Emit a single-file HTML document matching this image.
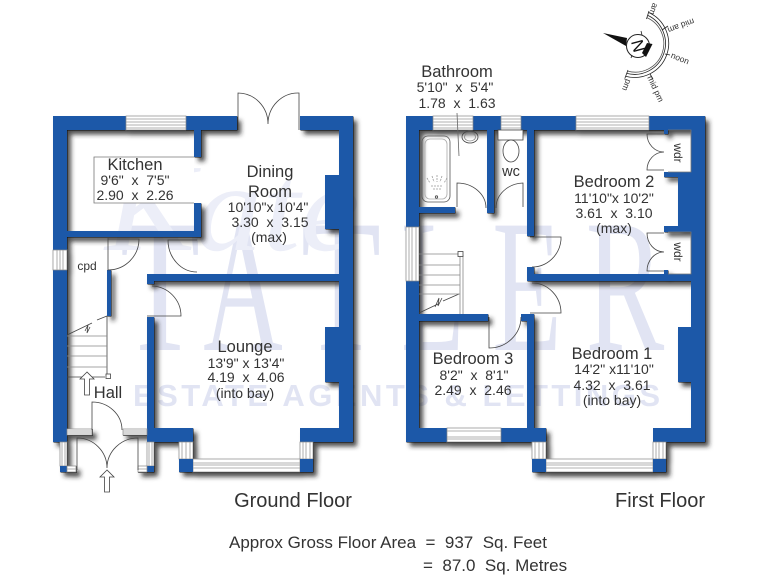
<!DOCTYPE html>
<html><head><meta charset="utf-8"><style>
html,body{margin:0;padding:0;background:#fff;width:768px;height:576px;overflow:hidden}
svg{display:block}
text{font-family:"Liberation Sans",sans-serif;fill:#333}
.m{text-anchor:middle}
.t{font-size:16.5px}
.d{font-size:14px}
.w rect.b{fill:#1b58a8}
.win{fill:#fff;stroke:#888;stroke-width:.7}
.l{stroke:#999;stroke-width:.8;fill:none}
.door{fill:none;stroke:#444;stroke-width:.8}
.wm text{font-family:"Liberation Serif",serif;fill:#e1e4f3;text-anchor:middle;font-size:190px}
</style></head><body>
<svg width="768" height="576" viewBox="0 0 768 576" xmlns="http://www.w3.org/2000/svg">
<defs><filter id="s" filterUnits="userSpaceOnUse" x="0" y="0" width="768" height="576">
<feGaussianBlur in="SourceAlpha" stdDeviation="2.500" result="b"/>
<feOffset in="b" dx="4" dy="4.500" result="o"/>
<feFlood flood-color="#222" flood-opacity=".8"/><feComposite in2="o" operator="in" result="big"/>
<feOffset in="SourceAlpha" dx=".7" dy=".7" result="e"/>
<feFlood flood-color="#111"/><feComposite in2="e" operator="in" result="edge"/>
<feMerge><feMergeNode in="big"/><feMergeNode in="edge"/><feMergeNode in="SourceGraphic"/></feMerge>
</filter></defs>
<rect width="768" height="576" fill="#fff"/>

<!-- watermark -->
<g class="wm">
<text transform="translate(160,350) scale(.69,1)">T</text>
<text transform="translate(243,350) scale(.58,1)">A</text>
<text transform="translate(341,350) scale(.69,1)">T</text>
<text transform="translate(433,350) scale(.55,1)">L</text>
<text transform="translate(527,350) scale(.6,1)">E</text>
<text transform="translate(625,350) scale(.62,1)">R</text>
<text x="105" y="250" textLength="255" lengthAdjust="spacingAndGlyphs" style="font-style:italic;font-size:125px;text-anchor:start;fill:#eceef8">Kate</text>
<text x="133" y="406" textLength="527" lengthAdjust="spacing" style="font-family:'Liberation Sans',sans-serif;font-weight:bold;font-size:31px;text-anchor:start">ESTATE AGENTS &amp; LETTINGS</text>
</g>

<!-- ground floor walls -->
<g class="w" filter="url(#s)">
<rect class="b" x="53" y="116" width="184" height="14"/>
<rect class="b" x="300" y="116" width="53" height="14"/>
<rect class="b" x="53" y="116" width="14" height="326"/>
<rect class="b" x="339" y="116" width="14" height="326"/>
<rect class="b" x="325" y="175" width="14" height="54"/>
<rect class="b" x="325" y="327" width="14" height="55"/>
<rect class="b" x="300" y="428" width="53" height="14"/>
<rect class="b" x="147" y="428" width="46" height="14"/>
<rect class="b" x="147" y="317" width="7" height="111"/>
<rect class="b" x="147" y="274" width="192" height="7"/>
<rect class="b" x="147" y="281" width="7" height="3"/>
<rect class="b" x="67" y="231" width="134" height="6"/>
<rect class="b" x="194" y="130" width="7" height="27"/>
<rect class="b" x="194" y="203" width="7" height="34"/>
<rect class="b" x="107" y="270" width="4" height="46"/>
<rect class="win" x="126" y="116" width="60" height="14"/>
<rect class="win" x="53" y="250" width="14" height="20"/>
<rect class="win" x="179" y="442" width="14" height="17"/>
<rect class="win" x="300" y="442" width="13" height="17"/>
<rect class="win" x="193" y="459" width="107" height="13"/>
<rect class="b" x="179" y="459" width="14" height="13"/>
<rect class="b" x="300" y="459" width="13" height="13"/>
<rect class="win" x="60" y="442" width="7" height="24"/>
<rect class="b" x="60" y="466" width="7" height="6"/>
<rect class="win" x="67" y="466" width="9" height="6"/>
<rect class="win" x="147" y="442" width="7" height="24"/>
<rect class="b" x="147" y="466" width="7" height="6"/>
<rect class="win" x="138" y="466" width="9" height="6"/>
<rect class="win" x="67" y="429" width="25" height="6"/>
<rect class="win" x="123" y="429" width="24" height="6"/>

<!-- first floor walls -->
<rect class="b" x="406" y="116" width="299" height="14"/>
<rect class="b" x="406" y="116" width="13" height="326"/>
<rect class="b" x="691" y="116" width="14" height="326"/>
<rect class="b" x="487" y="130" width="7" height="83"/>
<rect class="b" x="527" y="130" width="7" height="106"/>
<rect class="b" x="419" y="207" width="36" height="6"/>
<rect class="b" x="527" y="274" width="164" height="7"/>
<rect class="b" x="527" y="267" width="7" height="7"/>
<rect class="b" x="664" y="130" width="4" height="4"/>
<rect class="b" x="664" y="270" width="4" height="4"/>
<rect class="b" x="664" y="172" width="27" height="5"/>
<rect class="b" x="678" y="172" width="13" height="60"/>
<rect class="b" x="664" y="226" width="27" height="6"/>
<rect class="b" x="678" y="327" width="13" height="55"/>
<rect class="b" x="419" y="314" width="69" height="7"/>
<rect class="b" x="521" y="314" width="13" height="7"/>
<rect class="b" x="527" y="314" width="7" height="114"/>
<rect class="b" x="406" y="428" width="140" height="14"/>
<rect class="b" x="653" y="428" width="52" height="14"/>
<rect class="win" x="433" y="116" width="40" height="14"/>
<rect class="win" x="501" y="116" width="20" height="14"/>
<rect class="win" x="576" y="116" width="73" height="14"/>
<rect class="win" x="406" y="227" width="13" height="54"/>
<rect class="win" x="447" y="428" width="54" height="14"/>
<rect class="win" x="532" y="442" width="14" height="17"/>
<rect class="win" x="653" y="442" width="13" height="17"/>
<rect class="win" x="546" y="459" width="107" height="13"/>
<rect class="b" x="532" y="459" width="14" height="13"/>
<rect class="b" x="653" y="459" width="13" height="13"/>
</g>

<!-- window glazing lines -->
<g class="l">
<path d="M126 119H186M126 122H186M126 125H186M126 128H186"/>
<path d="M57 250V270M60 250V270M63 250V270"/>
<path d="M182 442V459M186 442V459M190 442V459M303 442V459M306 442V459M310 442V459"/>
<path d="M193 463H300M193 465H300M193 468H300"/>
<path d="M62 442V466M65 442V466M149 442V466M152 442V466M67 469H76M138 469H147M67 431H92M67 433H92M123 431H147M123 433H147"/>
<path d="M433 119H473M433 122H473M433 125H473M433 128H473M501 119H521M501 122H521M501 125H521M501 128H521"/>
<path d="M576 119H649M576 122H649M576 125H649M576 128H649"/>
<path d="M409 227V281M412 227V281M416 227V281"/>
<path d="M447 431H501M447 437H501M447 439H501"/>
<path d="M535 442V459M539 442V459M543 442V459M656 442V459M659 442V459M663 442V459"/>
<path d="M546 463H653M546 465H653M546 468H653"/>
</g>

<!-- kitchen label box -->
<path d="M194 157H94V203H194" fill="#fff" stroke="#777" stroke-width=".8"/>

<!-- ground doors -->
<g class="door">
<path d="M238 130V93A30 31 0 0 1 268 124A30 31 0 0 1 299 93V130"/>
<path d="M108 238V270A31 31 0 0 0 139 239H108"/>
<path d="M197 240H168A29 32 0 0 0 197 272"/>
<path d="M152 286A30 30 0 0 1 181 316H147"/>
<path d="M92 430V402A30 28 0 0 1 122 430"/>
<path d="M77 470V438A30 30 0 0 1 107 468A31 30 0 0 1 138 438V470"/>
<!-- stairs -->
<path d="M107 316V377M67 377H105M67 335L92 323M97 320L107 316M85 331L88 325L87 333L90 327"/>
<path d="M67 336H107M67 346H107M67 356H107M67 367H107" stroke="#888"/>
<rect x="106" y="374" width="4.500" height="4.500" fill="#fff"/>
<path d="M87 372L80 379H84.500V395H89.500V379H94Z" fill="#fff"/>
<path d="M107 470L100 477H104.500V492H109.500V477H114Z" fill="#fff"/>
</g>

<!-- first floor fixtures -->
<g class="door">
<path d="M457 207V183A29 25 0 0 1 486 208"/>
<path d="M457 113L459 156" stroke="#666"/>
<path d="M523 207V183A28 25 0 0 0 496 208"/>
<path d="M530 237H561V240A29 30 0 0 1 532 267"/>
<path d="M532 283A29 30 0 0 1 561 313H530"/>
<path d="M489 317V348A32 31 0 0 0 521 317"/>
<path d="M664 134H647A17 18 0 0 0 664 152A17 18 0 0 0 647 170H664"/>
<path d="M664 233H647A17 19 0 0 0 664 252A17 19 0 0 0 647 271H664"/>
<path d="M668 130H691V172H668M668 232H691V274H668" stroke="#777"/>
<rect x="422" y="136" width="28" height="66" rx="6" stroke="#555"/>
<rect x="425" y="139" width="22" height="60" rx="5" stroke="#aaa"/>
<ellipse cx="470" cy="137" rx="8" ry="6"/><ellipse cx="470" cy="137" rx="5.500" ry="4" stroke="#888"/>
<rect x="498" y="130" width="25" height="10" fill="#fff"/>
<ellipse cx="511" cy="151" rx="8" ry="11" fill="#fff"/>
<path d="M427 178L430 183M432 176L434 182M437 175V182M442 176L440 182M447 178L444 183M431 186H443M433 189H441" stroke="#999" stroke-dasharray="2 1"/>
<circle cx="436.500" cy="197" r="1.200"/>
<path d="M460 255V314M463 255V314" stroke="#888"/>
<path d="M419 313L438 304M443 301L459 294M435 307L439 298L438 306L442 298"/>
<path d="M419 254H458M419 265H460M419 275H460M419 285H460M419 294H460" stroke="#888"/>
<rect x="458" y="251.500" width="5" height="5" fill="#fff"/>
</g>

<!-- compass -->
<g fill="none" stroke="#222" stroke-width=".8">
<path d="M648.500 12.400A34 34 0 0 1 625.500 76.200"/>
<path d="M647.600 15.300A31 31 0 0 1 626.700 73.400"/>
<path d="M646.900 17.600A28.500 28.500 0 0 1 627.700 71.100" stroke="#555"/>
<path d="M649 11L646.500 19M625 78L628 70M668 26L662 30M670 55L665 54M650 74L653 79"/>
<circle cx="638" cy="46" r="11.500" fill="#fff" stroke-width="1"/>
<path d="M641 31L642 35M631 58L632 55"/>
</g>
<polygon points="603,33 627,38 626,46" fill="#111"/>
<polygon points="647,43 652.500,44 646,57 642,53" fill="#111"/>
<text x="638" y="52" class="m" transform="rotate(-105 638 46)" style="font-size:17px;fill:#111">N</text>
<g>
<text transform="translate(651,8) rotate(110)" class="m" style="font-size:8.500px">am</text>
<text transform="translate(680,23) rotate(160)" class="m" style="font-size:8.500px">mid am</text>
<text transform="translate(679,61) rotate(22)" class="m" style="font-size:8.500px">noon</text>
<text transform="translate(653,90) rotate(65)" class="m" style="font-size:8.500px">mid pm</text>
<text transform="translate(624,84) rotate(112)" class="m" style="font-size:8.500px">pm</text>
</g>

<!-- labels -->
<text x="135" y="170" class="m t">Kitchen</text>
<text x="135" y="185" class="m d" xml:space="preserve">9'6"  x  7'5"</text>
<text x="135" y="200" class="m d" xml:space="preserve">2.90  x  2.26</text>
<text x="270" y="177" class="m t">Dining</text>
<text x="270" y="197" class="m t">Room</text>
<text x="268" y="212" class="m d">10'10"x 10'4"</text>
<text x="270" y="227" class="m d" xml:space="preserve">3.30  x  3.15</text>
<text x="269" y="242" class="m d">(max)</text>
<text x="87" y="270" class="m" style="font-size:12px">cpd</text>
<text x="245" y="352" class="m t">Lounge</text>
<text x="246" y="368" class="m d" xml:space="preserve">13'9" x 13'4"</text>
<text x="246" y="382" class="m d" xml:space="preserve">4.19  x  4.06</text>
<text x="245" y="398" class="m d">(into bay)</text>
<text x="108" y="398" class="m t">Hall</text>
<text x="293" y="507" class="m" style="font-size:20px">Ground Floor</text>
<text x="660" y="507" class="m" style="font-size:20px">First Floor</text>
<text x="457" y="77" class="m t">Bathroom</text>
<text x="455" y="92" class="m d" xml:space="preserve">5'10"  x  5'4"</text>
<text x="457" y="108" class="m d" xml:space="preserve">1.78  x  1.63</text>
<text x="511" y="176" class="m" style="font-size:14.500px">wc</text>
<text x="614" y="187" class="m t">Bedroom 2</text>
<text x="614" y="203" class="m d">11'10"x 10'2"</text>
<text x="614" y="218" class="m d" xml:space="preserve">3.61  x  3.10</text>
<text x="614" y="233" class="m d">(max)</text>
<text transform="translate(674,153) rotate(90)" class="m" style="font-size:12px">wdr</text>
<text transform="translate(674,252) rotate(90)" class="m" style="font-size:12px">wdr</text>
<text x="473" y="364" class="m t">Bedroom 3</text>
<text x="474" y="380" class="m d" xml:space="preserve">8'2"  x  8'1"</text>
<text x="473" y="395" class="m d" xml:space="preserve">2.49  x  2.46</text>
<text x="612" y="359" class="m t">Bedroom 1</text>
<text x="614" y="374" class="m d">14'2" x11'10"</text>
<text x="612" y="390" class="m d" xml:space="preserve">4.32  x  3.61</text>
<text x="612" y="405" class="m d">(into bay)</text>
<text x="229" y="548" style="font-size:17px" xml:space="preserve">Approx Gross Floor Area  =  937  Sq. Feet</text>
<text x="423" y="571" style="font-size:17px" xml:space="preserve">=  87.0  Sq. Metres</text>
</svg>
</body></html>
